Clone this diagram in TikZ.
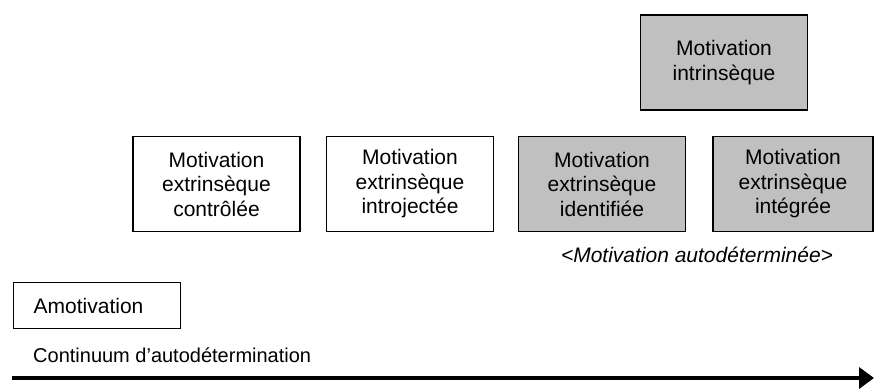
\documentclass[tikz,border=0pt]{standalone}
\usepackage{fontspec}
\setmainfont{Liberation Sans}
\usetikzlibrary{arrows.meta}
\definecolor{boxgray}{HTML}{C0C0C0}
\tikzset{
  stage/.style={draw=black, line width=1.3pt, minimum width=167pt, minimum height=95pt,
    inner sep=0pt, align=center, text width=160pt,
    font=\fontsize{21}{24.5}\selectfont},
  selfdet/.style={stage, fill=boxgray},
  plain/.style={inner sep=0pt, font=\fontsize{21}{24.5}\selectfont},
  continuum/.style={line width=4pt, -{Triangle[length=15pt,width=21pt]}}
}
\begin{document}
\begin{tikzpicture}[x=1pt,y=-1pt]
  \useasboundingbox (0,0) rectangle (874,388);

  % top box
  \node[selfdet] (intr) at (724,62.5) {Motivation\\intrinsèque};

  % row of extrinsic stages
  \node[stage]   (ctrl) at (216.5,184) {Motivation\\extrinsèque\\contrôlée};
  \node[stage]   (intro) at (410,184) {Motivation\\extrinsèque\\introjectée};
  \node[selfdet] (ident) at (602,184) {Motivation\\extrinsèque\\identifiée};
  \node[selfdet, minimum width=160pt, text width=150pt] (integ) at (793,184) {Motivation\\extrinsèque\\intégrée};

  \node[plain, font=\fontsize{21}{24.5}\selectfont\itshape] (auto) at (697,255) {<Motivation autodéterminée>};

  % amotivation
  \node[draw=black, line width=1.3pt, anchor=north west, minimum width=167pt, minimum height=46pt,
        inner xsep=20pt, inner ysep=0pt, text width=127pt, align=left,
        font=\fontsize{21}{24.5}\selectfont] (amot) at (13,282) {Amotivation};

  \node[plain, anchor=west, font=\fontsize{20}{24}\selectfont] (cont) at (33,355) {Continuum d’autodétermination};

  % continuum arrow
  \coordinate (cstart) at (12,378);
  \coordinate (cend) at (874,378);
  \draw[continuum] (cstart) -- (cend);
\end{tikzpicture}
\end{document}
